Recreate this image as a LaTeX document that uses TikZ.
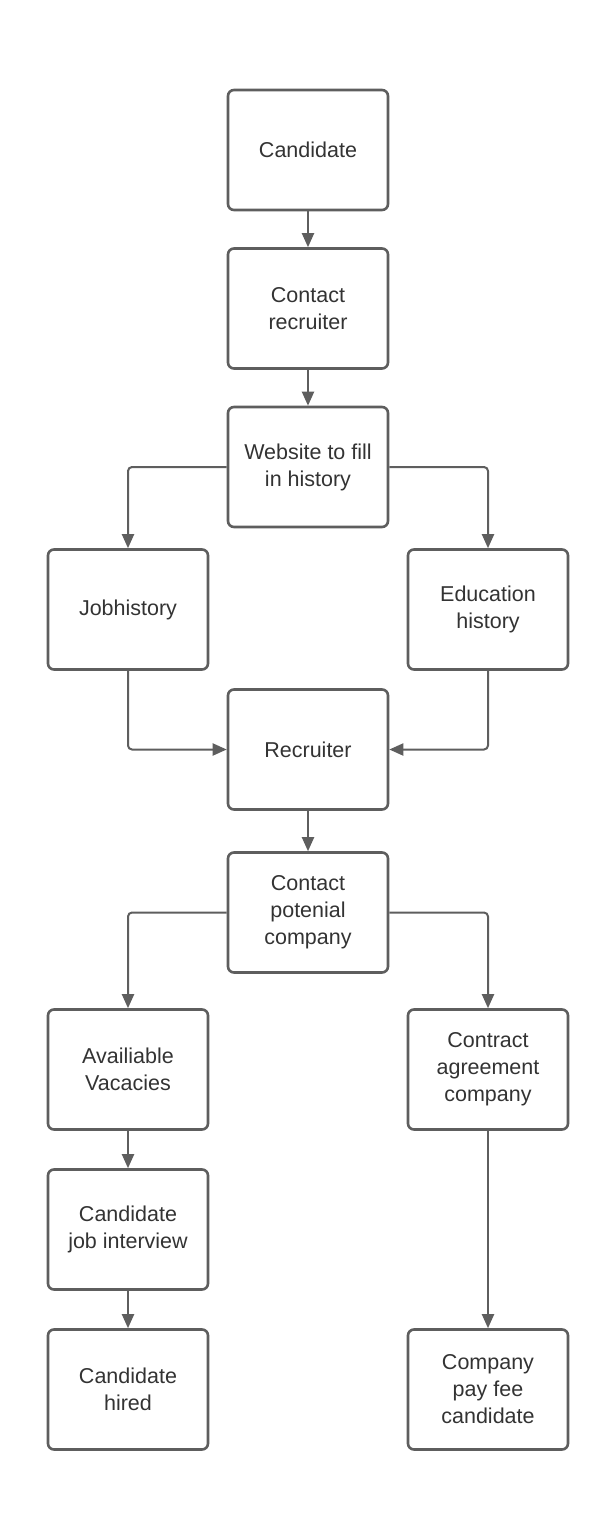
\documentclass[tikz,border=0pt]{standalone}
\usepackage{fontspec}
\setmainfont{Liberation Sans}
\usetikzlibrary{arrows.meta}
\definecolor{edge}{HTML}{5E5E5E}
\definecolor{txt}{HTML}{333333}
\begin{document}
\begin{tikzpicture}[x=1pt,y=-1pt,
  box/.style={draw=edge,line width=2.6pt,rounded corners=6pt,minimum width=160pt,minimum height=120pt,align=center,text=txt,font=\fontsize{21.5}{27}\selectfont,inner sep=0pt},
  arr/.style={draw=edge,line width=2pt,rounded corners=4pt,-{Triangle[length=14pt,width=12pt]}}]
\useasboundingbox (0,0) rectangle (616,1540);
\fill[white] (0,0) rectangle (616,1540);
\node[box] (cand) at (308,150) {Candidate};
\node[box] (crec) at (308,308.5) {Contact\\recruiter};
\node[box] (web) at (308,467) {Website to fill\\in history};
\node[box] (job) at (128,609.5) {Jobhistory};
\node[box] (edu) at (488,609.5) {Education\\history};
\node[box] (rec) at (308,749.5) {Recruiter};
\node[box] (cpc) at (308,912.5) {Contact\\potenial\\company};
\node[box] (av) at (128,1069.5) {Availiable\\Vacacies};
\node[box] (ca) at (488,1069.5) {Contract\\agreement\\company};
\node[box] (cji) at (128,1229.5) {Candidate\\job interview};
\node[box] (ch) at (128,1389.5) {Candidate\\hired};
\node[box] (cpf) at (488,1389.5) {Company\\pay fee\\candidate};
\draw[arr] (cand) -- (crec);
\draw[arr] (crec) -- (web);
\draw[arr] (web.west) -| (job.north);
\draw[arr] (web.east) -| (edu.north);
\draw[arr] (job.south) |- (rec.west);
\draw[arr] (edu.south) |- (rec.east);
\draw[arr] (rec) -- (cpc);
\draw[arr] (cpc.west) -| (av.north);
\draw[arr] (cpc.east) -| (ca.north);
\draw[arr] (av) -- (cji);
\draw[arr] (cji) -- (ch);
\draw[arr] (ca) -- (cpf);
\end{tikzpicture}
\end{document}
